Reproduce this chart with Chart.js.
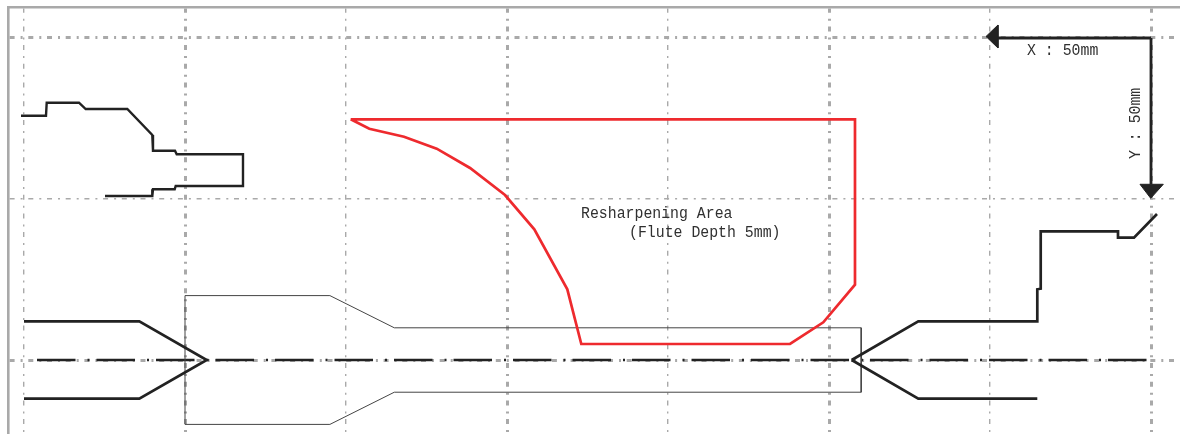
<!DOCTYPE html>
<html>
<head>
<meta charset="utf-8">
<style>html,body{margin:0;padding:0;background:#fff;overflow:hidden}canvas{display:block}</style>
<script src="https://cdn.jsdelivr.net/npm/chart.js@4"></script>
</head>
<body>
<canvas id="c" width="1180" height="434" style="width:1180px;height:434px"></canvas>
<script>
// All values in mm, measured from the dimension origin (X leftwards, Y downwards).
const gridX = [0, 50, 100, 150, 200, 250, 300, 350];
const gridY = [0, 50, 100];
const heavyGridX = [0, 100, 200, 300];
const heavyGridY = [0, 100];

const resharpenX = [248.54, 242.76, 231.99, 221.83, 211.49, 200.62, 191.52, 181.27, 176.93, 112.11, 101.77, 91.93, 91.93, 248.54];
const resharpenY = [25.25, 28.17, 30.65, 34.38, 40.37, 48.76, 59.41, 78.04, 95.03, 95.03, 88.29, 76.61, 25.25, 25.25];

const toolOutlineX = [300, 255, 235, 90, 90, 235, 255, 300, 300];
const toolOutlineY = [80, 80, 90, 90, 110, 110, 120, 120, 80];

const shankX = [350.93, 343.17, 342.95, 332.92, 330.84, 317.92, 310.16, 309.94, 303.11, 302.58, 281.99, 281.99, 302.89, 303.2, 309.94, 310.16, 324.84];
const shankY = [24.13, 24.13, 20.09, 20.09, 22.05, 22.05, 30.12, 35.0, 35.0, 36.12, 36.12, 45.96, 45.96, 46.99, 46.99, 49.07, 49.07];

const leftTipX = [350, 314.19, 293.26, 314.19, 350];
const leftTipY = [88, 88, 100, 112, 112];

const rightUpperX = [92.95, 72.27, 35.31, 35.31, 34.25, 34.25, 10.25, 10.25, 5.28, -1.86];
const rightUpperY = [100, 88, 88, 78.04, 77.86, 60.03, 60.03, 62.02, 62.02, 54.66];
const rightLowerX = [92.95, 72.27, 35.31];
const rightLowerY = [100, 112, 112];

const centerX = [345.96, 0];
const centerY = [100, 100];

const dimXShaftX = [0, 47.5];
const dimXShaftY = [0, 0];
const dimXHeadX = [51.24, 47.52, 47.52, 51.24];
const dimXHeadY = [-0.47, -4.04, 3.11, -0.47];
const dimYShaftX = [0, 0];
const dimYShaftY = [0, 45.5];
const dimYHeadX = [0.09, 3.42, -3.82, 0.09];
const dimYHeadY = [49.78, 45.43, 45.43, 49.78];

const noteTexts = ["Resharpening Area", "(Flute Depth 5mm)", "X : 50mm", "Y : 50mm"];
const noteX = [177.02, 162.11, 38.51, 4.97];
const noteY = [54.35, 60.25, 3.73, 37.58];
const noteAngle = [0, 0, 0, -90];

const pts = (xs, ys) => xs.map((x, i) => ({ x, y: ys[i] }));
const INK = '#222222', RED = '#ee2a2e', GREY = '#a9a9a9';
const line = (label, xs, ys, color, width, extra) => Object.assign({
  label, data: pts(xs, ys), showLine: true, borderColor: color, backgroundColor: color,
  borderWidth: width, pointRadius: 0, pointHoverRadius: 0, tension: 0, fill: false,
  borderJoinStyle: 'miter', clip: false
}, extra || {});

const notesPlugin = {
  id: 'notes',
  afterDatasetsDraw(chart) {
    const { ctx, scales: { x, y } } = chart;
    ctx.save();
    ctx.font = '15px "Liberation Mono", monospace';
    ctx.fillStyle = '#303030';
    ctx.textAlign = 'left';
    ctx.textBaseline = 'middle';
    noteTexts.forEach((t, i) => {
      ctx.save();
      ctx.translate(x.getPixelForValue(noteX[i]), y.getPixelForValue(noteY[i]));
      ctx.rotate(noteAngle[i] * Math.PI / 180);
      ctx.scale(0.99, 1.15);
      ctx.fillText(t, 0, 0);
      ctx.restore();
    });
    ctx.restore();
  }
};

new Chart(document.getElementById('c'), {
  type: 'scatter',
  plugins: [notesPlugin],
  data: {
    datasets: [
      line('Resharpening area', resharpenX, resharpenY, RED, 2.7),
      line('Dimension X head', dimXHeadX, dimXHeadY, INK, 1, { fill: 'shape' }),
      line('Dimension Y head', dimYHeadX, dimYHeadY, INK, 1, { fill: 'shape' }),
      line('Dimension X', dimXShaftX, dimXShaftY, INK, 2.8),
      line('Dimension Y', dimYShaftX, dimYShaftY, INK, 2.8),
      line('Shank', shankX, shankY, INK, 2.4),
      line('Left tip', leftTipX, leftTipY, INK, 2.7),
      line('Right upper', rightUpperX, rightUpperY, INK, 2.7),
      line('Right lower', rightLowerX, rightLowerY, INK, 2.7),
      line('Tool outline', toolOutlineX, toolOutlineY, '#444444', 1),
      line('Centerline', centerX, centerY, INK, 2.6, { borderDash: [38.5, 12, 2, 7] })
    ]
  },
  options: {
    responsive: false,
    animation: false,
    devicePixelRatio: 1,
    layout: { autoPadding: false, padding: { left: 8, top: 7, right: 0, bottom: 0 } },
    plugins: { legend: { display: false }, tooltip: { enabled: false }, title: { display: false } },
    events: [],
    scales: {
      x: {
        type: 'linear', position: 'top', reverse: true, min: -9.006, max: 354.97,
        afterBuildTicks: s => { s.ticks = gridX.map(value => ({ value })); },
        ticks: { display: false, autoSkip: false },
        grid: {
          color: GREY, drawTicks: false,
          lineWidth: c => c.tick && heavyGridX.includes(c.tick.value) ? 3 : 1.4
        },
        border: { display: true, color: GREY, width: 2.6, dash: [5, 6, 2, 5.7], dashOffset: 0.9 }
      },
      y: {
        type: 'linear', position: 'left', reverse: true, min: -9.627, max: 122.98,
        afterBuildTicks: s => { s.ticks = gridY.map(value => ({ value })); },
        ticks: { display: false, autoSkip: false },
        grid: {
          color: GREY, drawTicks: false,
          lineWidth: c => c.tick && heavyGridY.includes(c.tick.value) ? 3 : 1.4
        },
        border: { display: true, color: GREY, width: 2.6, dash: [5, 6, 2, 5.7], dashOffset: 0 }
      }
    }
  }
});
</script>
</body>
</html>
